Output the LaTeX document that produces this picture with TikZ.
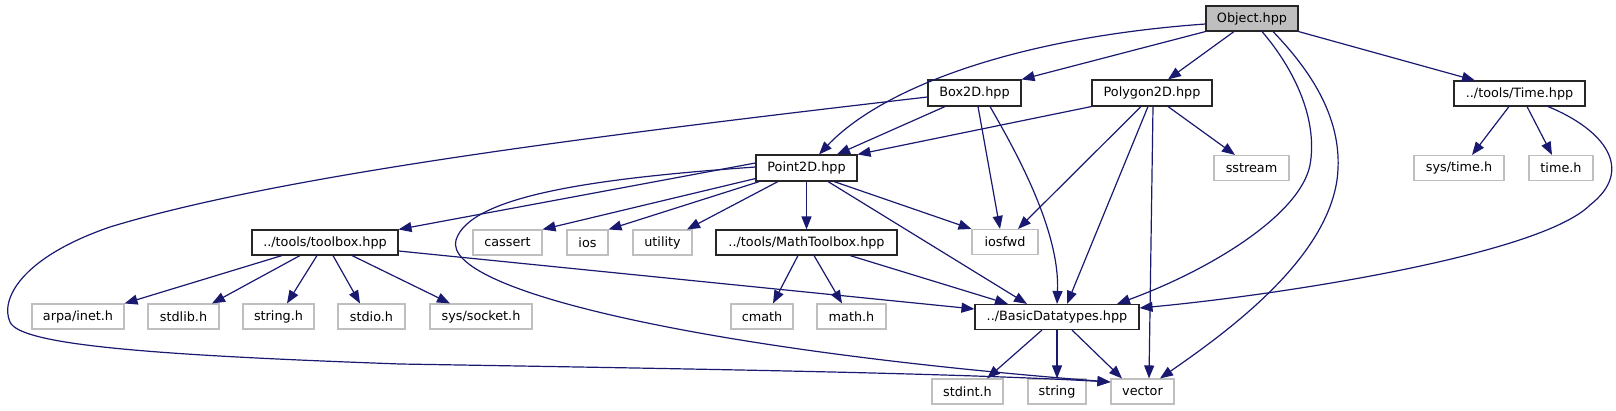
\documentclass[tikz,border=0pt]{standalone}
\usepackage{fontspec}
\setmainfont{DejaVu Sans}
\usetikzlibrary{arrows.meta}
\definecolor{edgec}{HTML}{191970}
\definecolor{grayfill}{HTML}{BFBFBF}
\definecolor{extborder}{HTML}{BFBFBF}
\begin{document}
\begin{tikzpicture}[x=1pt,y=-1pt,
  dep/.style={draw=black!85, line width=1.1pt, fill=white, minimum height=25pt, inner sep=0pt,
    font=\fontsize{12.8}{14}\selectfont},
  ext/.style={dep, draw=extborder},
  cur/.style={dep, fill=grayfill},
  e/.style={draw=edgec, line width=1.2pt, -{Triangle[length=13pt,width=10pt]}}]
\useasboundingbox (0,0) rectangle (1616,411);
% row 1
\node[cur, minimum width=92pt] (obj) at (1252,18.5) {Object.hpp};
% row 2
\node[dep, minimum width=93pt, minimum height=26pt] (box2d) at (974.5,93) {Box2D.hpp};
\node[dep, minimum width=120pt, minimum height=26pt] (poly) at (1152,93) {Polygon2D.hpp};
\node[dep, minimum width=131pt] (timehpp) at (1519.5,93.5) {../tools/Time.hpp};
% row 3
\node[dep, minimum width=101pt, minimum height=26pt] (p2d) at (806.5,168) {Point2D.hpp};
\node[ext, minimum width=75pt] (sstream) at (1251.5,168) {sstream};
\node[ext, minimum width=90pt] (systime) at (1459,168) {sys/time.h};
\node[ext, minimum width=64pt] (timeh) at (1561,168) {time.h};
% row 4
\node[dep, minimum width=146pt] (toolbox) at (325,242.5) {../tools/toolbox.hpp};
\node[ext, minimum width=69pt] (cassert) at (507.5,242.5) {cassert};
\node[ext, minimum width=41pt] (ios) at (587.5,242.5) {ios};
\node[ext, minimum width=59pt] (utility) at (662.5,242.5) {utility};
\node[dep, minimum width=181pt] (mathtb) at (806.5,242.5) {../tools/MathToolbox.hpp};
\node[ext, minimum width=66pt] (iosfwd) at (1005,242) {iosfwd};
% row 5
\node[ext, minimum width=92pt] (arpa) at (78,316.5) {arpa/inet.h};
\node[ext, minimum width=71pt] (stdlib) at (183.5,316.5) {stdlib.h};
\node[ext, minimum width=71pt] (stringh) at (278.5,316.5) {string.h};
\node[ext, minimum width=67pt] (stdio) at (371.5,316.5) {stdio.h};
\node[ext, minimum width=102pt] (socket) at (481,316.5) {sys/socket.h};
\node[ext, minimum width=62pt] (cmath) at (762,316.5) {cmath};
\node[ext, minimum width=69pt] (mathh) at (851.5,316.5) {math.h};
\node[dep, minimum width=164pt] (bd) at (1057,317) {../BasicDatatypes.hpp};
% row 6
\node[ext, minimum width=71pt] (stdint) at (967.5,391.5) {stdint.h};
\node[ext, minimum width=58pt] (string) at (1057,391.5) {string};
\node[ext, minimum width=63pt] (vector) at (1142.5,391.5) {vector};

% Object.hpp
\draw[e] (obj.south west) -- (box2d.north east);
\draw[e] ([yshift=-5.5pt]obj.west) .. controls (1010,38) and (880,90) .. ([xshift=12.5pt]p2d.north);
\draw[e] ([xshift=-18pt]obj.south) -- ([xshift=16pt]poly.north);
\draw[e] ([xshift=10pt]obj.south) .. controls (1295,70) and (1318,120) .. (1310,165)
   .. controls (1300,215) and (1210,270) .. ([xshift=60pt]bd.north);
\draw[e] ([xshift=21pt]obj.south) .. controls (1310,70) and (1345,120) .. (1337,180)
   .. controls (1325,260) and (1230,330) .. ([xshift=17.5pt]vector.north);
\draw[e] (obj.south east) -- ([xshift=-44.5pt]timehpp.north);
% Box2D.hpp
\draw[e] ([xshift=-29.5pt]box2d.south) -- ([xshift=30.5pt]p2d.north);
\draw[e] ([yshift=-4pt]box2d.west) .. controls (600,135) and (280,175) .. (110,227)
   .. controls (20,258) and (0,300) .. (10,322)
   .. controls (20,345) and (150,355) .. (400,364)
   .. controls (700,369) and (950,373) .. ([yshift=9.5pt]vector.west);
\draw[e] ([xshift=3.5pt]box2d.south) -- ([xshift=-5pt]iosfwd.north);
\draw[e] ([xshift=15.5pt]box2d.south) .. controls (1015,150) and (1060,230) .. (bd.north);
% Polygon2D.hpp
\draw[e] (poly.south west) -- (p2d.north east);
\draw[e] ([xshift=16pt]poly.south) -- ([xshift=-16.5pt]sstream.north);
\draw[e] ([xshift=-11pt]poly.south) -- ([xshift=13pt]iosfwd.north);
\draw[e] ([xshift=-4pt]poly.south) -- ([xshift=10pt]bd.north);
\draw[e] ([xshift=1pt]poly.south) -- ([xshift=6.5pt]vector.north);
% Time.hpp
\draw[e] ([xshift=-10.5pt]timehpp.south) -- ([xshift=13pt]systime.north);
\draw[e] ([xshift=7.5pt]timehpp.south) -- ([xshift=-9pt]timeh.north);
\draw[e] ([xshift=28.5pt]timehpp.south) .. controls (1605,130) and (1635,170) .. (1590,205)
   .. controls (1540,255) and (1280,295) .. ([yshift=9pt]bd.east);
% Point2D.hpp
\draw[e] ([yshift=5pt]p2d.west) -- (toolbox.north east);
\draw[e] ([yshift=1pt]p2d.west) .. controls (600,178) and (470,195) .. (456,240)
   .. controls (442,290) and (700,350) .. ([yshift=9.5pt]vector.west);
\draw[e] ([yshift=3pt]p2d.south west) -- (cassert.north east);
\draw[e] ([xshift=4pt]p2d.south west) -- (ios.north east);
\draw[e] ([xshift=-28.5pt]p2d.south) -- ([xshift=24.5pt]utility.north);
\draw[e] (p2d.south) -- (mathtb.north);
\draw[e] ([xshift=27.5pt]p2d.south) -- (iosfwd.north west);
\draw[e] ([xshift=21.5pt]p2d.south) -- ([xshift=-30pt]bd.north);
% toolbox.hpp
\draw[e] ([xshift=-43pt]toolbox.south) -- (arpa.north east);
\draw[e] ([xshift=-25pt]toolbox.south) -- ([xshift=28.5pt]stdlib.north);
\draw[e] ([xshift=-8pt]toolbox.south) -- ([xshift=8.5pt]stringh.north);
\draw[e] ([xshift=8pt]toolbox.south) -- ([xshift=-11.5pt]stdio.north);
\draw[e] ([xshift=27pt]toolbox.south) -- ([xshift=-31pt]socket.north);
\draw[e] ([yshift=-8.5pt]toolbox.east) -- ([yshift=8pt]bd.west);
% MathToolbox.hpp
\draw[e] ([xshift=-8.5pt]mathtb.south) -- ([xshift=11pt]cmath.north);
\draw[e] ([xshift=7.5pt]mathtb.south) -- ([xshift=-9.5pt]mathh.north);
\draw[e] ([xshift=43.5pt]mathtb.south) -- ([xshift=-49pt]bd.north);
% BasicDatatypes.hpp
\draw[e] ([xshift=-15pt]bd.south) -- ([xshift=19.5pt]stdint.north);
\draw[e] (bd.south) -- (string.north);
\draw[e] ([xshift=15pt]bd.south) -- ([xshift=-20.5pt]vector.north);
\end{tikzpicture}
\end{document}
